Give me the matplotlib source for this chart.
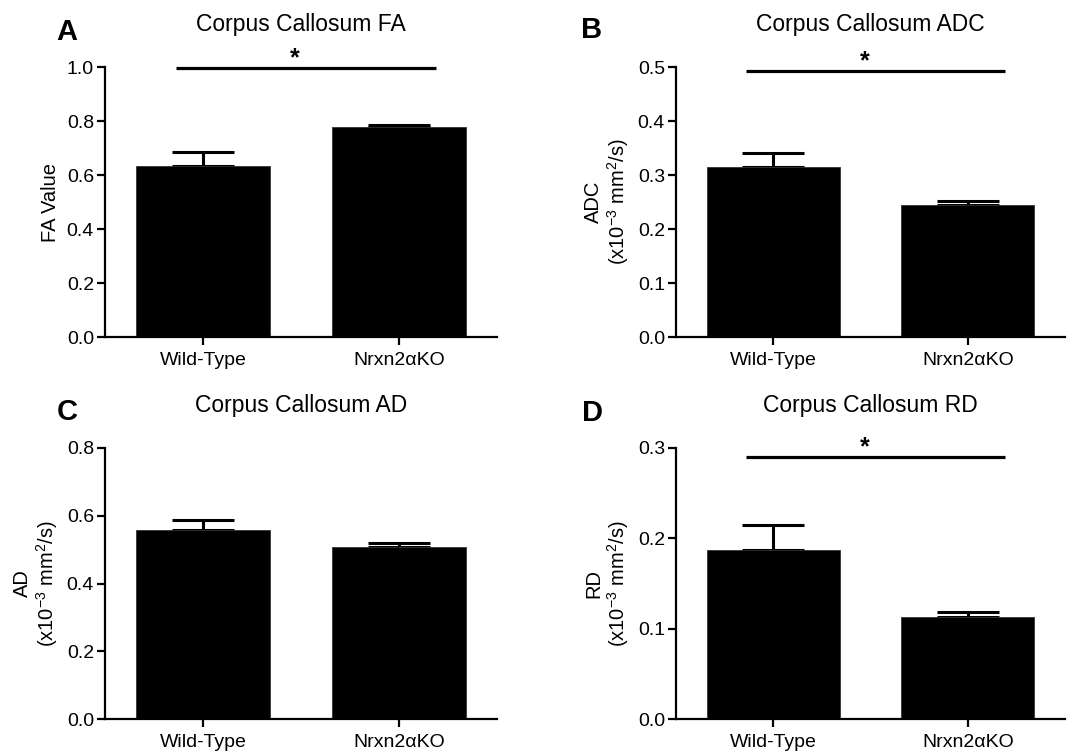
import matplotlib
matplotlib.use("Agg")
import matplotlib.pyplot as plt

plt.rcParams['font.family'] = ['Liberation Sans', 'DejaVu Sans']
plt.rcParams['mathtext.default'] = 'regular'

groups = ['Wild-Type', 'Nrxn2αKO']

fa_mean = [0.633, 0.778]
fa_err = [0.052, 0.008]

adc_mean = [0.314, 0.245]
adc_err = [0.027, 0.0075]

ad_mean = [0.558, 0.507]
ad_err = [0.028, 0.013]

rd_mean = [0.1875, 0.1125]
rd_err = [0.0275, 0.006]

panels = [
    # letter, title, ylabel, means, errs, ymax, yticks, sig line height
    ('A', 'Corpus Callosum FA', 'FA Value', fa_mean, fa_err, 1.0,
     [0.0, 0.2, 0.4, 0.6, 0.8, 1.0], 0.998),
    ('B', 'Corpus Callosum ADC', 'ADC\n(x10$^{-3}$ mm$^{2}$/s)', adc_mean, adc_err, 0.5,
     [0.0, 0.1, 0.2, 0.3, 0.4, 0.5], 0.492),
    ('C', 'Corpus Callosum AD', 'AD\n(x10$^{-3}$ mm$^{2}$/s)', ad_mean, ad_err, 0.8,
     [0.0, 0.2, 0.4, 0.6, 0.8], None),
    ('D', 'Corpus Callosum RD', 'RD\n(x10$^{-3}$ mm$^{2}$/s)', rd_mean, rd_err, 0.3,
     [0.0, 0.1, 0.2, 0.3], 0.2897),
]

W, H = 1077, 753
fig = plt.figure(figsize=(W / 100, H / 100), dpi=100)

# axes boxes in pixels: left, right, top, bottom
boxes = [(105, 497, 67, 337), (676, 1065, 67, 337),
         (105, 497, 448, 719), (676, 1065, 448, 719)]
letter_pos = [(67, 32), (592, 30), (67, 412), (592, 413)]

x = [0, 1]
for (letter, title, ylab, means, errs, ymax, yticks, sig), box, lp in zip(panels, boxes, letter_pos):
    l, r, t, b = box
    ax = fig.add_axes([l / W, 1 - b / H, (r - l) / W, (b - t) / H])
    ax.errorbar(x, means, yerr=[[0, 0], errs], fmt='none', ecolor='black',
                elinewidth=2.2, capsize=22, capthick=2.2, zorder=1)
    ax.bar(x, means, width=0.685, color='black', edgecolor='#333333',
           linewidth=0.6, zorder=2)
    ax.set_xlim(-0.5, 1.5)
    ax.set_ylim(0, ymax)
    ax.set_yticks(yticks)
    ax.set_yticklabels([f'{v:.1f}' for v in yticks])
    ax.set_xticks(x)
    ax.set_xticklabels(groups)
    for s in ['top', 'right']:
        ax.spines[s].set_visible(False)
    for s in ['left', 'bottom']:
        ax.spines[s].set_linewidth(1.6)
    ax.tick_params(axis='both', direction='out', length=6, width=1.6,
                   labelsize=14, pad=2)
    ax.tick_params(axis='x', pad=5)
    ax.set_ylabel(ylab, fontsize=14.5, labelpad=5, linespacing=1.1)
    ax.set_title(title, fontsize=16.5, pad=26)
    if sig is not None:
        ax.plot([-0.14, 1.19], [sig, sig], color='black', lw=2.3,
                clip_on=False, solid_capstyle='butt')
        ax.text(0.47, sig + ymax * 0.01, '*', ha='center', va='baseline',
                fontsize=18, fontweight='bold')
    fig.text(lp[0] / W, 1 - lp[1] / H, letter, fontsize=21, fontweight='bold',
             ha='center', va='center')

fig.savefig('out.png', dpi=100)
